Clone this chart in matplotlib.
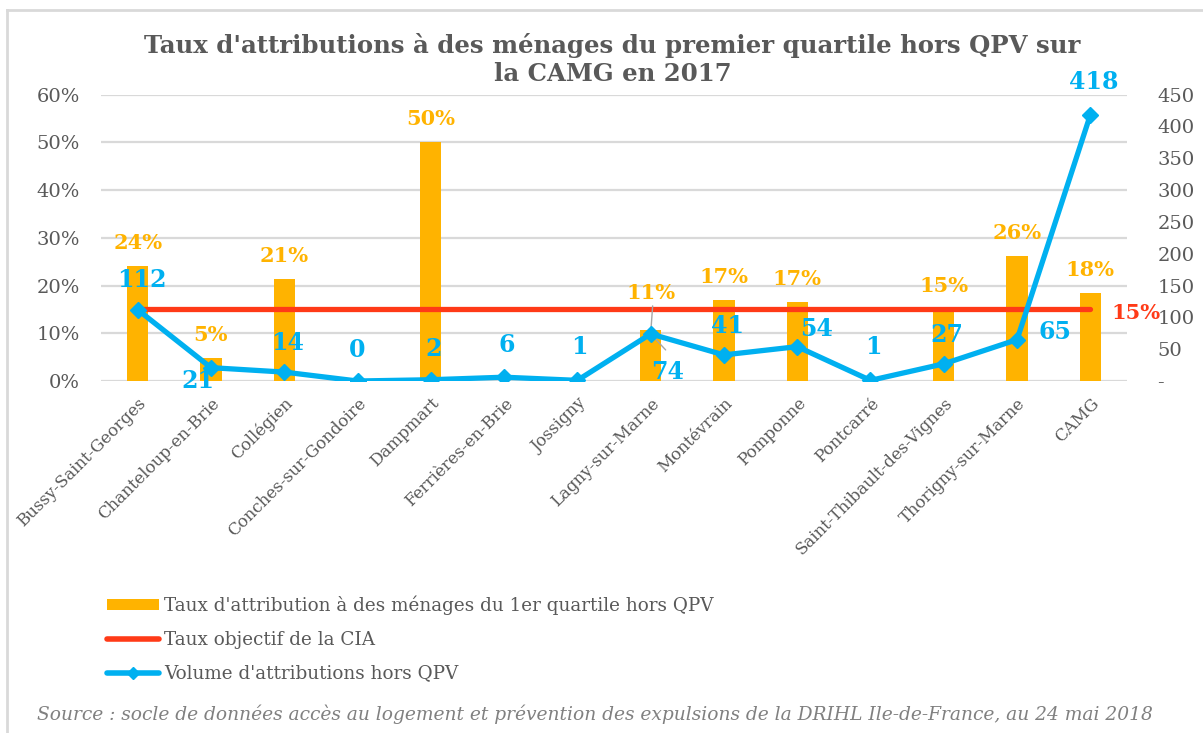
import numpy as np
import matplotlib
matplotlib.use("Agg")
import matplotlib.pyplot as plt
from matplotlib.lines import Line2D
from matplotlib.patches import Patch
from matplotlib.ticker import FuncFormatter, MultipleLocator

communes = ["Bussy-Saint-Georges", "Chanteloup-en-Brie", "Collégien", "Conches-sur-Gondoire",
            "Dampmart", "Ferrières-en-Brie", "Jossigny", "Lagny-sur-Marne", "Montévrain",
            "Pomponne", "Pontcarré", "Saint-Thibault-des-Vignes", "Thorigny-sur-Marne", "CAMG"]

# share of allocations to first-quartile households outside QPV (nan = no value)
taux_q1 = [0.241, 0.048, 0.214, np.nan, 0.50, np.nan, np.nan, 0.107, 0.17, 0.166,
           np.nan, 0.15, 0.262, 0.184]

# CIA target rate
taux_objectif = 0.15

# number of allocations outside QPV
volume = [112, 21, 14, 0, 2, 6, 1, 74, 41, 54, 1, 27, 65, 418]

ORANGE = "#FFB300"
RED = "#FF3A17"
BLUE = "#00B0F0"
GREY = "#595959"
SERIF = "DejaVu Serif"

plt.rcParams["font.family"] = SERIF

fig = plt.figure(figsize=(12.03, 7.33), dpi=100)
ax = fig.add_axes([0.084, 0.4802, 0.8528, 0.3908])
ax2 = ax.twinx()

x = np.arange(len(communes))

ax.bar(x, taux_q1, width=0.29, color=ORANGE, zorder=2)
ax.plot([x[0], x[-1]], [taux_objectif, taux_objectif], color=RED, lw=3.8,
        solid_capstyle="round", zorder=3)

ax2.plot(x, volume, color=BLUE, lw=3.8, marker="D", markersize=8, zorder=4)

ax.set_xlim(-0.5, len(communes) - 0.5)
ax.set_ylim(0, 0.6)
ax2.set_ylim(0, 450)

ax.yaxis.set_major_locator(MultipleLocator(0.1))
ax.yaxis.set_major_formatter(FuncFormatter(lambda v, p: f"{v:.0%}"))
ax2.yaxis.set_major_locator(MultipleLocator(50))
ax2.yaxis.set_major_formatter(FuncFormatter(lambda v, p: "-" if v == 0 else f"{v:.0f}"))

ax.grid(axis="y", color="#D9D9D9", lw=1.6, zorder=0)
ax.set_axisbelow(True)
for a in (ax, ax2):
    for s in a.spines.values():
        s.set_visible(False)
    a.tick_params(length=0, colors=GREY, labelsize=14)
ax.tick_params(axis="y", pad=15)
ax2.tick_params(axis="y", pad=22)

ax.set_xticks(x)
ax.set_xticklabels(communes, rotation=45, ha="right", rotation_mode="anchor",
                   fontsize=12, color=GREY)
ax.tick_params(axis="x", pad=10)

# bar value labels
for i, v in enumerate(taux_q1):
    if np.isnan(v):
        continue
    dy = 37 if communes[i] == "Lagny-sur-Marne" else 23
    ax.annotate(f"{v:.0%}", (x[i], v), xytext=(0, dy), textcoords="offset pixels",
                ha="center", va="center", color=ORANGE, fontsize=15, fontweight="bold", zorder=5)

# volume labels, placed around each point
offsets = [(4, 30), (-13, -13), (3, 29), (0, 31), (3, 31), (3, 32), (2, 33),
           (17, -38), (4, 29), (19, 18), (3, 33), (3, 29), (38, 8), (3, 33)]
for i, (v, (dx, dy)) in enumerate(zip(volume, offsets)):
    ax2.annotate(f"{v}", (x[i], v), xytext=(dx, dy), textcoords="offset pixels",
                 ha="center", va="center", color=BLUE, fontsize=17, fontweight="bold", zorder=6)

# leader line on Lagny-sur-Marne
ax2.annotate("", (x[7], volume[7]), xytext=(2, 28), textcoords="offset pixels",
             arrowprops=dict(arrowstyle="-", color="#A6A6A6", lw=1, shrinkA=0, shrinkB=0))
ax2.annotate("", (x[7], volume[7]), xytext=(15, -16), textcoords="offset pixels",
             arrowprops=dict(arrowstyle="-", color="#A6A6A6", lw=1, shrinkA=0, shrinkB=0))

# target rate label at the end of the red line
ax.annotate(f"{taux_objectif:.0%}", (x[-1], taux_objectif), xytext=(46, -4),
            textcoords="offset pixels", ha="center", va="center", color=RED,
            fontsize=15, fontweight="bold", zorder=5)

# two-line title
fig.text(0.509, 0.938, "Taux d'attributions à des ménages du premier quartile hors QPV sur",
         ha="center", va="center", fontsize=17.6, fontweight="bold", color=GREY)
fig.text(0.509, 0.899, "la CAMG en 2017",
         ha="center", va="center", fontsize=17.6, fontweight="bold", color=GREY)

handles = [
    Patch(facecolor=ORANGE, edgecolor="none"),
    Line2D([], [], color=RED, lw=4, solid_capstyle="round"),
    Line2D([], [], color=BLUE, lw=4, solid_capstyle="round", marker="D", markersize=6),
]
labels = ["Taux d'attribution à des ménages du 1er quartile hors QPV",
          "Taux objectif de la CIA",
          "Volume d'attributions hors QPV"]
fig.legend(handles, labels, loc="upper left", bbox_to_anchor=(0.083, 0.197),
           frameon=False, fontsize=13.2, handlelength=2.8, handleheight=0.55,
           handletextpad=0.3, labelspacing=0.85, labelcolor=GREY, borderaxespad=0)

fig.text(0.031, 0.026, "Source : socle de données accès au logement et prévention des expulsions de la DRIHL Ile-de-France, au 24 mai 2018",
         ha="left", va="center", fontsize=13.4, style="italic", color="#808080")

# chart frame
fig.add_artist(Line2D([0.006, 0.006], [0, 0.986], color="#D9D9D9", lw=2))
fig.add_artist(Line2D([0.006, 1], [0.986, 0.986], color="#D9D9D9", lw=2))

fig.savefig("out.png", dpi=100, facecolor="white")
